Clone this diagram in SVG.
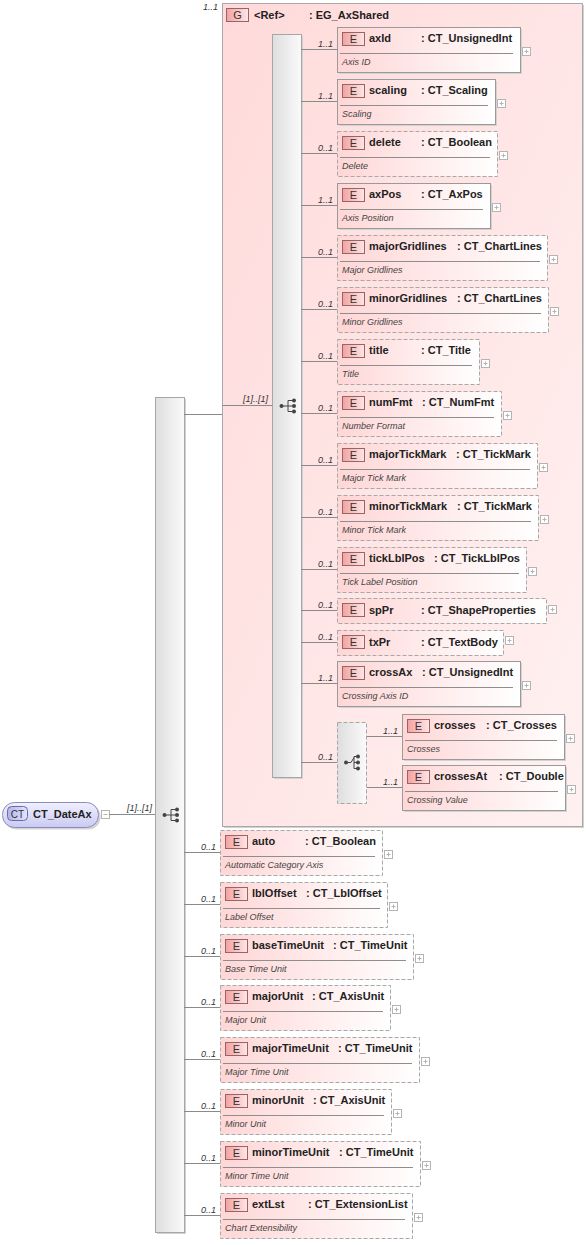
<svg xmlns="http://www.w3.org/2000/svg" width="586" height="1245" viewBox="0 0 586 1245">
<defs>
<linearGradient id="gEl" x1="0" y1="0" x2="1" y2="0"><stop offset="0" stop-color="#ffd6d6"/><stop offset="1" stop-color="#ffffff"/></linearGradient>
<linearGradient id="gGrp" x1="0" y1="0" x2="1" y2="1"><stop offset="0" stop-color="#ffdada"/><stop offset="1" stop-color="#fff1f1"/></linearGradient>
<linearGradient id="gBar" x1="0" y1="0" x2="1" y2="0"><stop offset="0" stop-color="#dedede"/><stop offset="1" stop-color="#fafafa"/></linearGradient>
<linearGradient id="gEb" x1="0" y1="0" x2="1" y2="0"><stop offset="0" stop-color="#f2a2a2"/><stop offset="1" stop-color="#ffe6e6"/></linearGradient>
<linearGradient id="gCT" x1="0" y1="0" x2="0" y2="1"><stop offset="0" stop-color="#f0f0ff"/><stop offset="1" stop-color="#cacaf2"/></linearGradient>
<linearGradient id="gCTb" x1="0" y1="0" x2="1" y2="0"><stop offset="0" stop-color="#b4b4e8"/><stop offset="1" stop-color="#e4e4ff"/></linearGradient>
</defs>
<style>
.el{fill:url(#gEl);stroke:#9a9a9a;stroke-width:1}
.opt{stroke-dasharray:4 2;stroke:#a8a8a8}
.sh{fill:#d2d2d2}
.eb{fill:url(#gEb);stroke:#9a6464;stroke-width:1}
.ebt{font-family:"Liberation Sans",Arial,sans-serif;font-size:11px;fill:#333;text-anchor:middle}
.nm{font-family:"Liberation Sans",Arial,sans-serif;font-size:11px;font-weight:bold;fill:#222}
.ds{font-family:"Liberation Sans",Arial,sans-serif;font-size:9px;font-style:italic;fill:#444}
.ml{font-family:"Liberation Sans",Arial,sans-serif;font-size:9px;font-style:italic;fill:#333;text-anchor:end}
.sep{stroke:#8e8e8e;stroke-width:1}
.pl{fill:#fff;stroke:#b4b4b4;stroke-width:1}
.pll{stroke:#b4b4b4;stroke-width:1}
.cn{stroke:#8a8a8a;stroke-width:1;fill:none}
.bar{fill:url(#gBar);stroke:#a6a6a6;stroke-width:1}
.ic{stroke:#444;stroke-width:1;fill:none}
.dot{fill:#444}
.grp{fill:url(#gGrp);stroke:#a8a8a8;stroke-width:1}
</style>

<!-- root complex type -->
<g id="node-CT_DateAx">
<rect x="4.5" y="804.5" width="96" height="25" rx="12" fill="#d4d4d4"/>
<rect x="2.5" y="802.5" width="96" height="25" rx="12" fill="url(#gCT)" stroke="#8c8cbc"/>
<rect x="7.5" y="806.5" width="20" height="14" rx="4" fill="url(#gCTb)" stroke="#6a6aa6"/>
<text x="17.5" y="817.5" style="font-family:'Liberation Sans',Arial,sans-serif;font-size:10px;fill:#333;text-anchor:middle">CT</text>
<text class="nm" x="33" y="818">CT_DateAx</text>
<rect class="pl" x="101.5" y="810.5" width="8" height="8"/>
<line class="pll" x1="103.5" y1="814.5" x2="107.5" y2="814.5"/>
</g>

<!-- main sequence -->
<g id="seq-main">
<rect class="sh" x="157" y="399" width="29" height="835"/>
<rect class="bar" x="155.5" y="397.5" width="29" height="835"/>
<circle class="dot" cx="164.5" cy="815" r="2"/>
<path class="ic" d="M164.5 815H171M171 809.5V820.5M171 809.5H177M171 815H177M171 820.5H177"/>
<circle class="dot" cx="177" cy="809.5" r="2"/>
<circle class="dot" cx="177" cy="815" r="2"/>
<circle class="dot" cx="177" cy="820.5" r="2"/>
</g>

<!-- group EG_AxShared -->
<g id="group-EG_AxShared">
<rect class="sh" x="224" y="5" width="360" height="823"/>
<rect class="grp" x="222.5" y="3.5" width="360" height="823"/>
<rect class="eb" x="226.5" y="8.5" width="22" height="13"/>
<text class="ebt" x="237.5" y="19">G</text>
<text class="nm" x="254" y="18.5">&lt;Ref&gt;</text>
<text class="nm" x="309" y="18.5">: EG_AxShared</text>
</g>

<g id="seq-inner">
<rect class="sh" x="274" y="36" width="29" height="743"/>
<rect class="bar" x="272.5" y="34.5" width="29" height="743"/>
<circle class="dot" cx="281.5" cy="406" r="2"/>
<path class="ic" d="M281.5 406H288M288 400.5V411.5M288 400.5H294M288 406H294M288 411.5H294"/>
<circle class="dot" cx="294" cy="400.5" r="2"/>
<circle class="dot" cx="294" cy="406" r="2"/>
<circle class="dot" cx="294" cy="411.5" r="2"/>
</g>

<g id="choice">
<rect class="bar opt" x="337.5" y="722.5" width="29" height="81"/>
<circle class="dot" cx="346" cy="762.5" r="2"/>
<path class="ic" d="M346 762.5H351L354 757.5M354 756.5V768.5M354 756.5H358M354 762.5H358M354 768.5H358"/>
<circle class="dot" cx="358" cy="756.5" r="2"/>
<circle class="dot" cx="358" cy="762.5" r="2"/>
<circle class="dot" cx="358" cy="768.5" r="2"/>
</g>

<!-- connectors -->
<g id="connectors">
<line class="cn" x1="109" y1="814.5" x2="155" y2="814.5"/>
<line class="cn" x1="184" y1="414.5" x2="222" y2="414.5"/>
<line class="cn" x1="222" y1="405.5" x2="272" y2="405.5"/>
<line class="cn" x1="301" y1="49.5" x2="337" y2="49.5"/>
<line class="cn" x1="301" y1="101.5" x2="337" y2="101.5"/>
<line class="cn" x1="301" y1="153.5" x2="337" y2="153.5"/>
<line class="cn" x1="301" y1="205.5" x2="337" y2="205.5"/>
<line class="cn" x1="301" y1="257.5" x2="337" y2="257.5"/>
<line class="cn" x1="301" y1="309.5" x2="337" y2="309.5"/>
<line class="cn" x1="301" y1="361.5" x2="337" y2="361.5"/>
<line class="cn" x1="301" y1="413.5" x2="337" y2="413.5"/>
<line class="cn" x1="301" y1="465.5" x2="337" y2="465.5"/>
<line class="cn" x1="301" y1="517.5" x2="337" y2="517.5"/>
<line class="cn" x1="301" y1="569.5" x2="337" y2="569.5"/>
<line class="cn" x1="301" y1="610.5" x2="337" y2="610.5"/>
<line class="cn" x1="301" y1="642.5" x2="337" y2="642.5"/>
<line class="cn" x1="301" y1="683.5" x2="337" y2="683.5"/>
<line class="cn" x1="301" y1="762.5" x2="337" y2="762.5"/>
<line class="cn" x1="367" y1="736.5" x2="402" y2="736.5"/>
<line class="cn" x1="367" y1="787.5" x2="402" y2="787.5"/>
<line class="cn" x1="184" y1="852.5" x2="220" y2="852.5"/>
<line class="cn" x1="184" y1="904.5" x2="220" y2="904.5"/>
<line class="cn" x1="184" y1="956.5" x2="220" y2="956.5"/>
<line class="cn" x1="184" y1="1007.5" x2="220" y2="1007.5"/>
<line class="cn" x1="184" y1="1059.5" x2="220" y2="1059.5"/>
<line class="cn" x1="184" y1="1111.5" x2="220" y2="1111.5"/>
<line class="cn" x1="184" y1="1163.5" x2="220" y2="1163.5"/>
<line class="cn" x1="184" y1="1215.5" x2="220" y2="1215.5"/>
<text class="ml" x="152" y="811">[1]..[1]</text>
<text class="ml" x="268" y="402">[1]..[1]</text>
<text class="ml" x="218" y="10">1..1</text>
<text class="ml" x="333" y="46.5">1..1</text>
<text class="ml" x="333" y="98.5">1..1</text>
<text class="ml" x="333" y="150.5">0..1</text>
<text class="ml" x="333" y="202.5">1..1</text>
<text class="ml" x="333" y="254.5">0..1</text>
<text class="ml" x="333" y="306.5">0..1</text>
<text class="ml" x="333" y="358.5">0..1</text>
<text class="ml" x="333" y="410.5">0..1</text>
<text class="ml" x="333" y="462.5">0..1</text>
<text class="ml" x="333" y="514.5">0..1</text>
<text class="ml" x="333" y="566.5">0..1</text>
<text class="ml" x="333" y="607.5">0..1</text>
<text class="ml" x="333" y="639.5">0..1</text>
<text class="ml" x="333" y="680.5">1..1</text>
<text class="ml" x="333" y="759.5">0..1</text>
<text class="ml" x="398" y="733.5">1..1</text>
<text class="ml" x="398" y="784.5">1..1</text>
<text class="ml" x="216" y="849.5">0..1</text>
<text class="ml" x="216" y="901.5">0..1</text>
<text class="ml" x="216" y="953.5">0..1</text>
<text class="ml" x="216" y="1004.5">0..1</text>
<text class="ml" x="216" y="1056.5">0..1</text>
<text class="ml" x="216" y="1108.5">0..1</text>
<text class="ml" x="216" y="1160.5">0..1</text>
<text class="ml" x="216" y="1212.5">0..1</text>
</g>

<g id="el-axId">
<rect class="sh" x="339" y="29" width="183" height="45"/>
<rect class="el" x="337.5" y="27.5" width="183" height="45"/>
<rect class="eb" x="342.5" y="32.5" width="22" height="13"/><text class="ebt" x="353.5" y="43">E</text>
<text class="nm" x="369" y="42">axId</text><text class="nm" x="421" y="42">: CT_UnsignedInt</text>
<line class="sep" x1="340" y1="53.5" x2="513" y2="53.5"/>
<text class="ds" x="342" y="65">Axis ID</text>
<rect class="pl" x="522.5" y="47.5" width="8" height="8"/><path class="pll" d="M524.5 51.5H528.5M526.5 49.5V53.5"/>
</g>

<g id="el-scaling">
<rect class="sh" x="339" y="81" width="158" height="45"/>
<rect class="el" x="337.5" y="79.5" width="158" height="45"/>
<rect class="eb" x="342.5" y="84.5" width="22" height="13"/><text class="ebt" x="353.5" y="95">E</text>
<text class="nm" x="369" y="94">scaling</text><text class="nm" x="421" y="94">: CT_Scaling</text>
<line class="sep" x1="340" y1="105.5" x2="488" y2="105.5"/>
<text class="ds" x="342" y="117">Scaling</text>
<rect class="pl" x="497.5" y="99.5" width="8" height="8"/><path class="pll" d="M499.5 103.5H503.5M501.5 101.5V105.5"/>
</g>

<g id="el-delete">
<rect class="el opt" x="337.5" y="131.5" width="160" height="45"/>
<rect class="eb" x="342.5" y="136.5" width="22" height="13"/><text class="ebt" x="353.5" y="147">E</text>
<text class="nm" x="369" y="146">delete</text><text class="nm" x="421" y="146">: CT_Boolean</text>
<line class="sep" x1="340" y1="157.5" x2="490" y2="157.5"/>
<text class="ds" x="342" y="169">Delete</text>
<rect class="pl" x="499.5" y="151.5" width="8" height="8"/><path class="pll" d="M501.5 155.5H505.5M503.5 153.5V157.5"/>
</g>

<g id="el-axPos">
<rect class="sh" x="339" y="185" width="153" height="45"/>
<rect class="el" x="337.5" y="183.5" width="153" height="45"/>
<rect class="eb" x="342.5" y="188.5" width="22" height="13"/><text class="ebt" x="353.5" y="199">E</text>
<text class="nm" x="369" y="198">axPos</text><text class="nm" x="421" y="198">: CT_AxPos</text>
<line class="sep" x1="340" y1="209.5" x2="483" y2="209.5"/>
<text class="ds" x="342" y="221">Axis Position</text>
<rect class="pl" x="492.5" y="203.5" width="8" height="8"/><path class="pll" d="M494.5 207.5H498.5M496.5 205.5V209.5"/>
</g>

<g id="el-majorGridlines">
<rect class="el opt" x="337.5" y="235.5" width="210" height="45"/>
<rect class="eb" x="342.5" y="240.5" width="22" height="13"/><text class="ebt" x="353.5" y="251">E</text>
<text class="nm" x="369" y="250">majorGridlines</text><text class="nm" x="457" y="250">: CT_ChartLines</text>
<line class="sep" x1="340" y1="261.5" x2="540" y2="261.5"/>
<text class="ds" x="342" y="273">Major Gridlines</text>
<rect class="pl" x="549.5" y="255.5" width="8" height="8"/><path class="pll" d="M551.5 259.5H555.5M553.5 257.5V261.5"/>
</g>

<g id="el-minorGridlines">
<rect class="el opt" x="337.5" y="287.5" width="211" height="45"/>
<rect class="eb" x="342.5" y="292.5" width="22" height="13"/><text class="ebt" x="353.5" y="303">E</text>
<text class="nm" x="369" y="302">minorGridlines</text><text class="nm" x="457" y="302">: CT_ChartLines</text>
<line class="sep" x1="340" y1="313.5" x2="541" y2="313.5"/>
<text class="ds" x="342" y="325">Minor Gridlines</text>
<rect class="pl" x="550.5" y="307.5" width="8" height="8"/><path class="pll" d="M552.5 311.5H556.5M554.5 309.5V313.5"/>
</g>

<g id="el-title">
<rect class="el opt" x="337.5" y="339.5" width="142" height="45"/>
<rect class="eb" x="342.5" y="344.5" width="22" height="13"/><text class="ebt" x="353.5" y="355">E</text>
<text class="nm" x="369" y="354">title</text><text class="nm" x="421" y="354">: CT_Title</text>
<line class="sep" x1="340" y1="365.5" x2="472" y2="365.5"/>
<text class="ds" x="342" y="377">Title</text>
<rect class="pl" x="481.5" y="359.5" width="8" height="8"/><path class="pll" d="M483.5 363.5H487.5M485.5 361.5V365.5"/>
</g>

<g id="el-numFmt">
<rect class="el opt" x="337.5" y="391.5" width="164" height="45"/>
<rect class="eb" x="342.5" y="396.5" width="22" height="13"/><text class="ebt" x="353.5" y="407">E</text>
<text class="nm" x="369" y="406">numFmt</text><text class="nm" x="422" y="406">: CT_NumFmt</text>
<line class="sep" x1="340" y1="417.5" x2="494" y2="417.5"/>
<text class="ds" x="342" y="429">Number Format</text>
<rect class="pl" x="503.5" y="411.5" width="8" height="8"/><path class="pll" d="M505.5 415.5H509.5M507.5 413.5V417.5"/>
</g>

<g id="el-majorTickMark">
<rect class="el opt" x="337.5" y="443.5" width="200" height="45"/>
<rect class="eb" x="342.5" y="448.5" width="22" height="13"/><text class="ebt" x="353.5" y="459">E</text>
<text class="nm" x="369" y="458">majorTickMark</text><text class="nm" x="456" y="458">: CT_TickMark</text>
<line class="sep" x1="340" y1="469.5" x2="530" y2="469.5"/>
<text class="ds" x="342" y="481">Major Tick Mark</text>
<rect class="pl" x="539.5" y="463.5" width="8" height="8"/><path class="pll" d="M541.5 467.5H545.5M543.5 465.5V469.5"/>
</g>

<g id="el-minorTickMark">
<rect class="el opt" x="337.5" y="495.5" width="201" height="45"/>
<rect class="eb" x="342.5" y="500.5" width="22" height="13"/><text class="ebt" x="353.5" y="511">E</text>
<text class="nm" x="369" y="510">minorTickMark</text><text class="nm" x="457" y="510">: CT_TickMark</text>
<line class="sep" x1="340" y1="521.5" x2="531" y2="521.5"/>
<text class="ds" x="342" y="533">Minor Tick Mark</text>
<rect class="pl" x="540.5" y="515.5" width="8" height="8"/><path class="pll" d="M542.5 519.5H546.5M544.5 517.5V521.5"/>
</g>

<g id="el-tickLblPos">
<rect class="el opt" x="337.5" y="547.5" width="189" height="45"/>
<rect class="eb" x="342.5" y="552.5" width="22" height="13"/><text class="ebt" x="353.5" y="563">E</text>
<text class="nm" x="369" y="562">tickLblPos</text><text class="nm" x="434" y="562">: CT_TickLblPos</text>
<line class="sep" x1="340" y1="573.5" x2="519" y2="573.5"/>
<text class="ds" x="342" y="585">Tick Label Position</text>
<rect class="pl" x="528.5" y="567.5" width="8" height="8"/><path class="pll" d="M530.5 571.5H534.5M532.5 569.5V573.5"/>
</g>

<g id="el-spPr">
<rect class="el opt" x="337.5" y="598.5" width="209" height="25"/>
<rect class="eb" x="342.5" y="603.5" width="22" height="13"/><text class="ebt" x="353.5" y="614">E</text>
<text class="nm" x="369" y="614">spPr</text><text class="nm" x="421" y="614">: CT_ShapeProperties</text>
<rect class="pl" x="548.5" y="605.5" width="8" height="8"/><path class="pll" d="M550.5 609.5H554.5M552.5 607.5V611.5"/>
</g>

<g id="el-txPr">
<rect class="el opt" x="337.5" y="630.5" width="166" height="25"/>
<rect class="eb" x="342.5" y="635.5" width="22" height="13"/><text class="ebt" x="353.5" y="646">E</text>
<text class="nm" x="369" y="646">txPr</text><text class="nm" x="421" y="646">: CT_TextBody</text>
<rect class="pl" x="505.5" y="636.5" width="8" height="8"/><path class="pll" d="M507.5 640.5H511.5M509.5 638.5V642.5"/>
</g>

<g id="el-crossAx">
<rect class="sh" x="339" y="663" width="183" height="45"/>
<rect class="el" x="337.5" y="661.5" width="183" height="45"/>
<rect class="eb" x="342.5" y="666.5" width="22" height="13"/><text class="ebt" x="353.5" y="677">E</text>
<text class="nm" x="369" y="676">crossAx</text><text class="nm" x="422" y="676">: CT_UnsignedInt</text>
<line class="sep" x1="340" y1="687.5" x2="513" y2="687.5"/>
<text class="ds" x="342" y="699">Crossing Axis ID</text>
<rect class="pl" x="522.5" y="681.5" width="8" height="8"/><path class="pll" d="M524.5 685.5H528.5M526.5 683.5V687.5"/>
</g>

<g id="el-crosses">
<rect class="sh" x="404" y="716" width="162" height="45"/>
<rect class="el" x="402.5" y="714.5" width="162" height="45"/>
<rect class="eb" x="407.5" y="719.5" width="22" height="13"/><text class="ebt" x="418.5" y="730">E</text>
<text class="nm" x="434" y="729">crosses</text><text class="nm" x="486" y="729">: CT_Crosses</text>
<line class="sep" x1="405" y1="740.5" x2="557" y2="740.5"/>
<text class="ds" x="407" y="752">Crosses</text>
<rect class="pl" x="566.5" y="734.5" width="8" height="8"/><path class="pll" d="M568.5 738.5H572.5M570.5 736.5V740.5"/>
</g>

<g id="el-crossesAt">
<rect class="sh" x="404" y="767" width="163" height="45"/>
<rect class="el" x="402.5" y="765.5" width="163" height="45"/>
<rect class="eb" x="407.5" y="770.5" width="22" height="13"/><text class="ebt" x="418.5" y="781">E</text>
<text class="nm" x="434" y="780">crossesAt</text><text class="nm" x="499" y="780">: CT_Double</text>
<line class="sep" x1="405" y1="791.5" x2="558" y2="791.5"/>
<text class="ds" x="407" y="803">Crossing Value</text>
<rect class="pl" x="567.5" y="785.5" width="8" height="8"/><path class="pll" d="M569.5 789.5H573.5M571.5 787.5V791.5"/>
</g>

<g id="el-auto">
<rect class="el opt" x="220.5" y="830.5" width="162" height="45"/>
<rect class="eb" x="225.5" y="835.5" width="22" height="13"/><text class="ebt" x="236.5" y="846">E</text>
<text class="nm" x="252" y="845">auto</text><text class="nm" x="305" y="845">: CT_Boolean</text>
<line class="sep" x1="223" y1="856.5" x2="375" y2="856.5"/>
<text class="ds" x="225" y="868">Automatic Category Axis</text>
<rect class="pl" x="384.5" y="850.5" width="8" height="8"/><path class="pll" d="M386.5 854.5H390.5M388.5 852.5V856.5"/>
</g>

<g id="el-lblOffset">
<rect class="el opt" x="220.5" y="882.5" width="167" height="45"/>
<rect class="eb" x="225.5" y="887.5" width="22" height="13"/><text class="ebt" x="236.5" y="898">E</text>
<text class="nm" x="252" y="897">lblOffset</text><text class="nm" x="306" y="897">: CT_LblOffset</text>
<line class="sep" x1="223" y1="908.5" x2="380" y2="908.5"/>
<text class="ds" x="225" y="920">Label Offset</text>
<rect class="pl" x="389.5" y="902.5" width="8" height="8"/><path class="pll" d="M391.5 906.5H395.5M393.5 904.5V908.5"/>
</g>

<g id="el-baseTimeUnit">
<rect class="el opt" x="220.5" y="934.5" width="193" height="45"/>
<rect class="eb" x="225.5" y="939.5" width="22" height="13"/><text class="ebt" x="236.5" y="950">E</text>
<text class="nm" x="252" y="949">baseTimeUnit</text><text class="nm" x="333" y="949">: CT_TimeUnit</text>
<line class="sep" x1="223" y1="960.5" x2="406" y2="960.5"/>
<text class="ds" x="225" y="972">Base Time Unit</text>
<rect class="pl" x="415.5" y="954.5" width="8" height="8"/><path class="pll" d="M417.5 958.5H421.5M419.5 956.5V960.5"/>
</g>

<g id="el-majorUnit">
<rect class="el opt" x="220.5" y="985.5" width="170" height="45"/>
<rect class="eb" x="225.5" y="990.5" width="22" height="13"/><text class="ebt" x="236.5" y="1001">E</text>
<text class="nm" x="252" y="1000">majorUnit</text><text class="nm" x="312" y="1000">: CT_AxisUnit</text>
<line class="sep" x1="223" y1="1011.5" x2="383" y2="1011.5"/>
<text class="ds" x="225" y="1023">Major Unit</text>
<rect class="pl" x="392.5" y="1005.5" width="8" height="8"/><path class="pll" d="M394.5 1009.5H398.5M396.5 1007.5V1011.5"/>
</g>

<g id="el-majorTimeUnit">
<rect class="el opt" x="220.5" y="1037.5" width="199" height="45"/>
<rect class="eb" x="225.5" y="1042.5" width="22" height="13"/><text class="ebt" x="236.5" y="1053">E</text>
<text class="nm" x="252" y="1052">majorTimeUnit</text><text class="nm" x="338" y="1052">: CT_TimeUnit</text>
<line class="sep" x1="223" y1="1063.5" x2="412" y2="1063.5"/>
<text class="ds" x="225" y="1075">Major Time Unit</text>
<rect class="pl" x="421.5" y="1057.5" width="8" height="8"/><path class="pll" d="M423.5 1061.5H427.5M425.5 1059.5V1063.5"/>
</g>

<g id="el-minorUnit">
<rect class="el opt" x="220.5" y="1089.5" width="171" height="45"/>
<rect class="eb" x="225.5" y="1094.5" width="22" height="13"/><text class="ebt" x="236.5" y="1105">E</text>
<text class="nm" x="252" y="1104">minorUnit</text><text class="nm" x="313" y="1104">: CT_AxisUnit</text>
<line class="sep" x1="223" y1="1115.5" x2="384" y2="1115.5"/>
<text class="ds" x="225" y="1127">Minor Unit</text>
<rect class="pl" x="393.5" y="1109.5" width="8" height="8"/><path class="pll" d="M395.5 1113.5H399.5M397.5 1111.5V1115.5"/>
</g>

<g id="el-minorTimeUnit">
<rect class="el opt" x="220.5" y="1141.5" width="200" height="45"/>
<rect class="eb" x="225.5" y="1146.5" width="22" height="13"/><text class="ebt" x="236.5" y="1157">E</text>
<text class="nm" x="252" y="1156">minorTimeUnit</text><text class="nm" x="339" y="1156">: CT_TimeUnit</text>
<line class="sep" x1="223" y1="1167.5" x2="413" y2="1167.5"/>
<text class="ds" x="225" y="1179">Minor Time Unit</text>
<rect class="pl" x="422.5" y="1161.5" width="8" height="8"/><path class="pll" d="M424.5 1165.5H428.5M426.5 1163.5V1167.5"/>
</g>

<g id="el-extLst">
<rect class="el opt" x="220.5" y="1193.5" width="192" height="45"/>
<rect class="eb" x="225.5" y="1198.5" width="22" height="13"/><text class="ebt" x="236.5" y="1209">E</text>
<text class="nm" x="252" y="1208">extLst</text><text class="nm" x="308" y="1208">: CT_ExtensionList</text>
<line class="sep" x1="223" y1="1219.5" x2="405" y2="1219.5"/>
<text class="ds" x="225" y="1231">Chart Extensibility</text>
<rect class="pl" x="414.5" y="1213.5" width="8" height="8"/><path class="pll" d="M416.5 1217.5H420.5M418.5 1215.5V1219.5"/>
</g>
</svg>
